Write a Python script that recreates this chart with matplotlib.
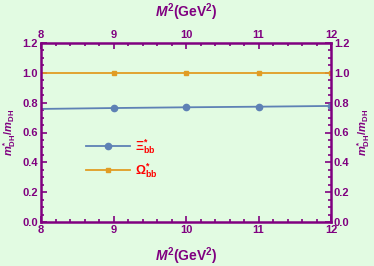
import matplotlib
matplotlib.use("Agg")
import matplotlib.pyplot as plt
from matplotlib.ticker import MultipleLocator
from matplotlib.lines import Line2D

# Data
m2 = [8, 9, 10, 11, 12]
xi_bb = [0.758, 0.764, 0.769, 0.773, 0.778]
omega_bb = [1.0, 1.0, 1.0, 1.0, 1.0]
xticks = [8, 9, 10, 11, 12]
yticks = [0.0, 0.2, 0.4, 0.6, 0.8, 1.0, 1.2]
labels = [r"$\Xi^{*}_{\mathrm{bb}}$", r"$\Omega^{*}_{\mathrm{bb}}$"]

plt.rcParams['font.family'] = ['Liberation Sans', 'DejaVu Sans']
plt.rcParams['font.weight'] = 'bold'
plt.rcParams['mathtext.fontset'] = 'custom'
plt.rcParams['mathtext.rm'] = 'Liberation Sans:bold'
plt.rcParams['mathtext.bf'] = 'Liberation Sans:bold'
plt.rcParams['mathtext.it'] = 'Liberation Sans:bold:italic'

purple = '#800080'
bg = '#E2FBE2'
blue = '#5E81B5'
orange = '#E19C24'

fig = plt.figure(figsize=(3.74, 2.66), dpi=100, facecolor=bg)
ax = fig.add_axes([41/374, 1-222/266, 290/374, 179/266])
ax.set_facecolor(bg)

ax.plot(m2, xi_bb, color=blue, lw=1.3, marker='o', ms=4.5, markevery=[1, 2, 3, 4])
ax.plot(m2, omega_bb, color=orange, lw=1.3, marker='s', ms=3, markevery=[1, 2, 3, 4])

ax.set_xlim(8, 12)
ax.set_ylim(0, 1.2)
ax.set_xticks(xticks)
ax.set_yticks(yticks)
ax.xaxis.set_minor_locator(MultipleLocator(0.2))
ax.yaxis.set_minor_locator(MultipleLocator(0.05))
ax.set_yticklabels([f"{v:.1f}" for v in yticks])

for s in ax.spines.values():
    s.set_color(purple)
    s.set_linewidth(1.8)

ax.tick_params(which='both', direction='in', colors=purple, top=True, right=True,
               labeltop=True, labelright=True, labelsize=8, width=1.2)
ax.tick_params(which='major', length=4, pad=2)
ax.tick_params(which='minor', length=2)
for lab in ax.get_xticklabels() + ax.get_yticklabels():
    lab.set_fontweight('bold')

ax.set_xlabel(r"$M^{2}$(GeV$^{2}$)", color=purple, fontsize=10, fontweight='bold', labelpad=8)
ax.set_ylabel(r"$m^{*}_{\mathrm{DH}}/m_{\mathrm{DH}}$", color=purple, fontsize=8, labelpad=3)
# top and right labels
fig.text((41+290/2)/374, 1-12/266, r"$M^{2}$(GeV$^{2}$)", color=purple, fontsize=10,
         fontweight='bold', ha='center', va='center')
fig.text(364/374, 1-132/266, r"$m^{*}_{\mathrm{DH}}/m_{\mathrm{DH}}$", color=purple, fontsize=8,
         rotation=90, ha='center', va='center')

handles = [Line2D([], [], color=blue, lw=1.3, marker='o', ms=4.5),
           Line2D([], [], color=orange, lw=1.3, marker='s', ms=3)]
leg = ax.legend(handles, labels, loc='center left', bbox_to_anchor=(0.135, 0.355),
                frameon=False, fontsize=9, labelcolor='red', handlelength=3.5,
                handletextpad=0.4, labelspacing=0.45, numpoints=1, borderpad=0)

fig.savefig("out.png", dpi=100, facecolor=bg)
